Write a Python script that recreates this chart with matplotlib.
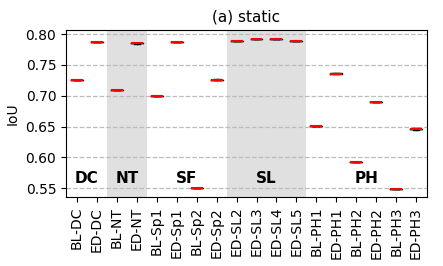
import matplotlib
matplotlib.use("Agg")
import matplotlib.pyplot as plt

# IoU per configuration (static scene), a few runs each
labels = ["BL-DC", "ED-DC", "BL-NT", "ED-NT", "BL-Sp1", "ED-Sp1", "BL-Sp2", "ED-Sp2",
          "ED-SL2", "ED-SL3", "ED-SL4", "ED-SL5", "BL-PH1", "ED-PH1", "BL-PH2", "ED-PH2",
          "BL-PH3", "ED-PH3"]
runs = [
    [0.725, 0.725, 0.725],
    [0.787, 0.787, 0.787],
    [0.709, 0.709, 0.709],
    [0.7845, 0.785, 0.7855],
    [0.700, 0.700, 0.700],
    [0.7865, 0.787, 0.7875],
    [0.550, 0.550, 0.550],
    [0.7255, 0.726, 0.7265],
    [0.788, 0.788, 0.788],
    [0.7915, 0.792, 0.7925],
    [0.7915, 0.792, 0.7925],
    [0.7885, 0.789, 0.7895],
    [0.651, 0.651, 0.651],
    [0.7355, 0.736, 0.7365],
    [0.592, 0.592, 0.592],
    [0.6895, 0.690, 0.6905],
    [0.548, 0.548, 0.548],
    [0.645, 0.646, 0.647],
]
groups = ["DC", "NT", "SF", "SL", "PH"]
group_pos = [0.5, 2.5, 5.5, 9.5, 14.5]
shaded_idx = [2, 3, 8, 9, 10, 11]

fig = plt.figure(figsize=(4.43, 2.66), dpi=100)
ax = fig.add_axes([0.149, 0.259, 0.815, 0.628])

for i in shaded_idx:
    ax.axvspan(i - 0.5, i + 0.5, color="#e0e0e0", lw=0, zorder=0)

ax.boxplot(runs, positions=range(len(labels)), widths=0.6,
           medianprops=dict(color="red", linewidth=1.5),
           boxprops=dict(color="black", linewidth=1),
           whiskerprops=dict(color="black"), capprops=dict(color="black"),
           showfliers=False)

ax.yaxis.grid(True, linestyle="--", color="#bbbbbb", linewidth=0.9)
ax.set_axisbelow(True)
ax.set_xlim(-0.55, len(labels) - 0.45)
ax.set_ylim(0.5355, 0.8065)
ax.set_yticks([0.55, 0.60, 0.65, 0.70, 0.75, 0.80])
ax.set_xticks(range(len(labels)))
ax.set_xticklabels(labels, rotation=90, fontsize=10)
ax.tick_params(axis="y", labelsize=10)
ax.set_ylabel("IoU", fontsize=10)
ax.set_title("(a) static", fontsize=11)

for g, x in zip(groups, group_pos):
    ax.text(x, 0.565, g, ha="center", va="center", fontsize=11, fontweight="bold")

fig.savefig("out.png", dpi=100)
